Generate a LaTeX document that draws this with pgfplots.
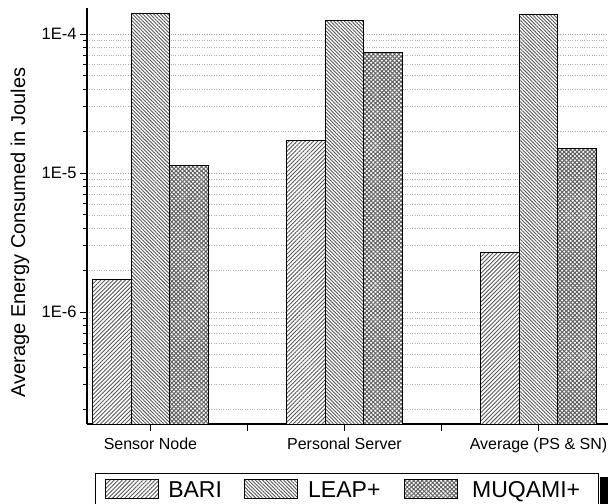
\documentclass[border=0pt]{standalone}
\usepackage{pgfplots}
\pgfplotsset{compat=1.18}
\usetikzlibrary{patterns.meta}
\usepackage{fontspec}
\setmainfont{Liberation Sans}

\pgfplotstableread{
x    bari     leap     muqami
1    1.73e-6  1.41e-4  1.13e-5
2    1.71e-5  1.25e-4  7.35e-5
3    2.71e-6  1.39e-4  1.51e-5
}\energy

\tikzset{
  bariP/.style={draw=black, line width=0.9bp, preaction={fill=white},
    pattern={Lines[angle=45,distance=2.9bp,line width=0.9bp]}, pattern color=black!65},
  leapP/.style={draw=black, line width=0.9bp, preaction={fill=white},
    pattern={Lines[angle=-45,distance=2.5bp,line width=0.9bp]}, pattern color=black!65},
  muqP/.style={draw=black, line width=0.9bp, preaction={fill=white},
    pattern={Hatch[angle=45,distance=3bp,line width=1bp]}, pattern color=black!62},
}
\pgfplotsset{mylegimg/.style={legend image code/.code={\draw[##1] (0bp,-9bp) rectangle (53bp,10bp);}}}

\begin{document}
\begin{tikzpicture}
\begin{axis}[
  name=ax,
  scale only axis,
  width=521bp, height=416bp,
  ymode=log,
  log origin=infty,
  ymin=1.57e-7, ymax=1.54e-4,
  xmin=0.673, xmax=3.358,
  ybar=0pt,
  bar width=0.2,
  axis x line*=bottom,
  axis y line*=left,
  axis line style={line width=1.3bp, black},
  tick align=outside,
  major tick length=7bp,
  minor tick length=4bp,
  tick style={line width=1bp, black},
  xtick={1,1.5,2,2.5,3},
  xticklabels={Sensor Node,,Personal Server,,Average (PS \& SN)},
  ytick={1e-6,1e-5,1e-4},
  yticklabels={1E-6,1E-5,1E-4},
  minor ytick={2e-7,3e-7,4e-7,5e-7,6e-7,7e-7,8e-7,9e-7,
               2e-6,3e-6,4e-6,5e-6,6e-6,7e-6,8e-6,9e-6,
               2e-5,3e-5,4e-5,5e-5,6e-5,7e-5,8e-5,9e-5},
  ymajorgrids, yminorgrids,
  major grid style={dotted, line width=0.9bp, black!35},
  minor grid style={dotted, line width=0.9bp, black!30},
  /pgf/number format/assume math mode=true,
  xticklabel style={font=\fontsize{16bp}{19bp}\selectfont, yshift=-3bp},
  yticklabel style={font=\fontsize{16.5bp}{19bp}\selectfont},
  ylabel={Average Energy Consumed in Joules},
  ylabel style={font=\fontsize{20bp}{24bp}\selectfont, at={(axis description cs:-0.1286,0.46)}, anchor=center},
  legend columns=3,
  legend style={at={(0.01536,-0.1178)}, anchor=north west, draw=black, line width=0.8bp,
    font=\fontsize{23bp}{26bp}\selectfont, inner xsep=10bp, inner ysep=6bp,
    nodes={inner sep=0pt},
    /tikz/every odd column/.append style={column sep=0bp},
    /tikz/every even column/.append style={column sep=0bp}},
]
\addplot[bariP, bar shift=-0.2, mylegimg] table[x=x,y=bari] {\energy};
\addplot[leapP, bar shift=0, mylegimg] table[x=x,y=leap] {\energy};
\addplot[muqP, bar shift=0.2, mylegimg] table[x=x,y=muqami] {\energy};
\legend{\makebox[85bp][l]{\hspace{9bp}BARI},\makebox[106bp][l]{\hspace{10bp}LEAP+},\makebox[130bp][l]{\hspace{14bp}MUQAMI+}}
\coordinate (bl) at (rel axis cs:0,0);
\coordinate (tr) at (rel axis cs:1,1);
\end{axis}
\fill[black] ([shift={(-8bp,-53bp)}]bl -| tr) rectangle ([shift={(0bp,-85bp)}]bl -| tr);
\pgfresetboundingbox
\path[use as bounding box] ([shift={(-87bp,-80bp)}]bl) rectangle ([shift={(0bp,8bp)}]tr);
\end{tikzpicture}
\end{document}
